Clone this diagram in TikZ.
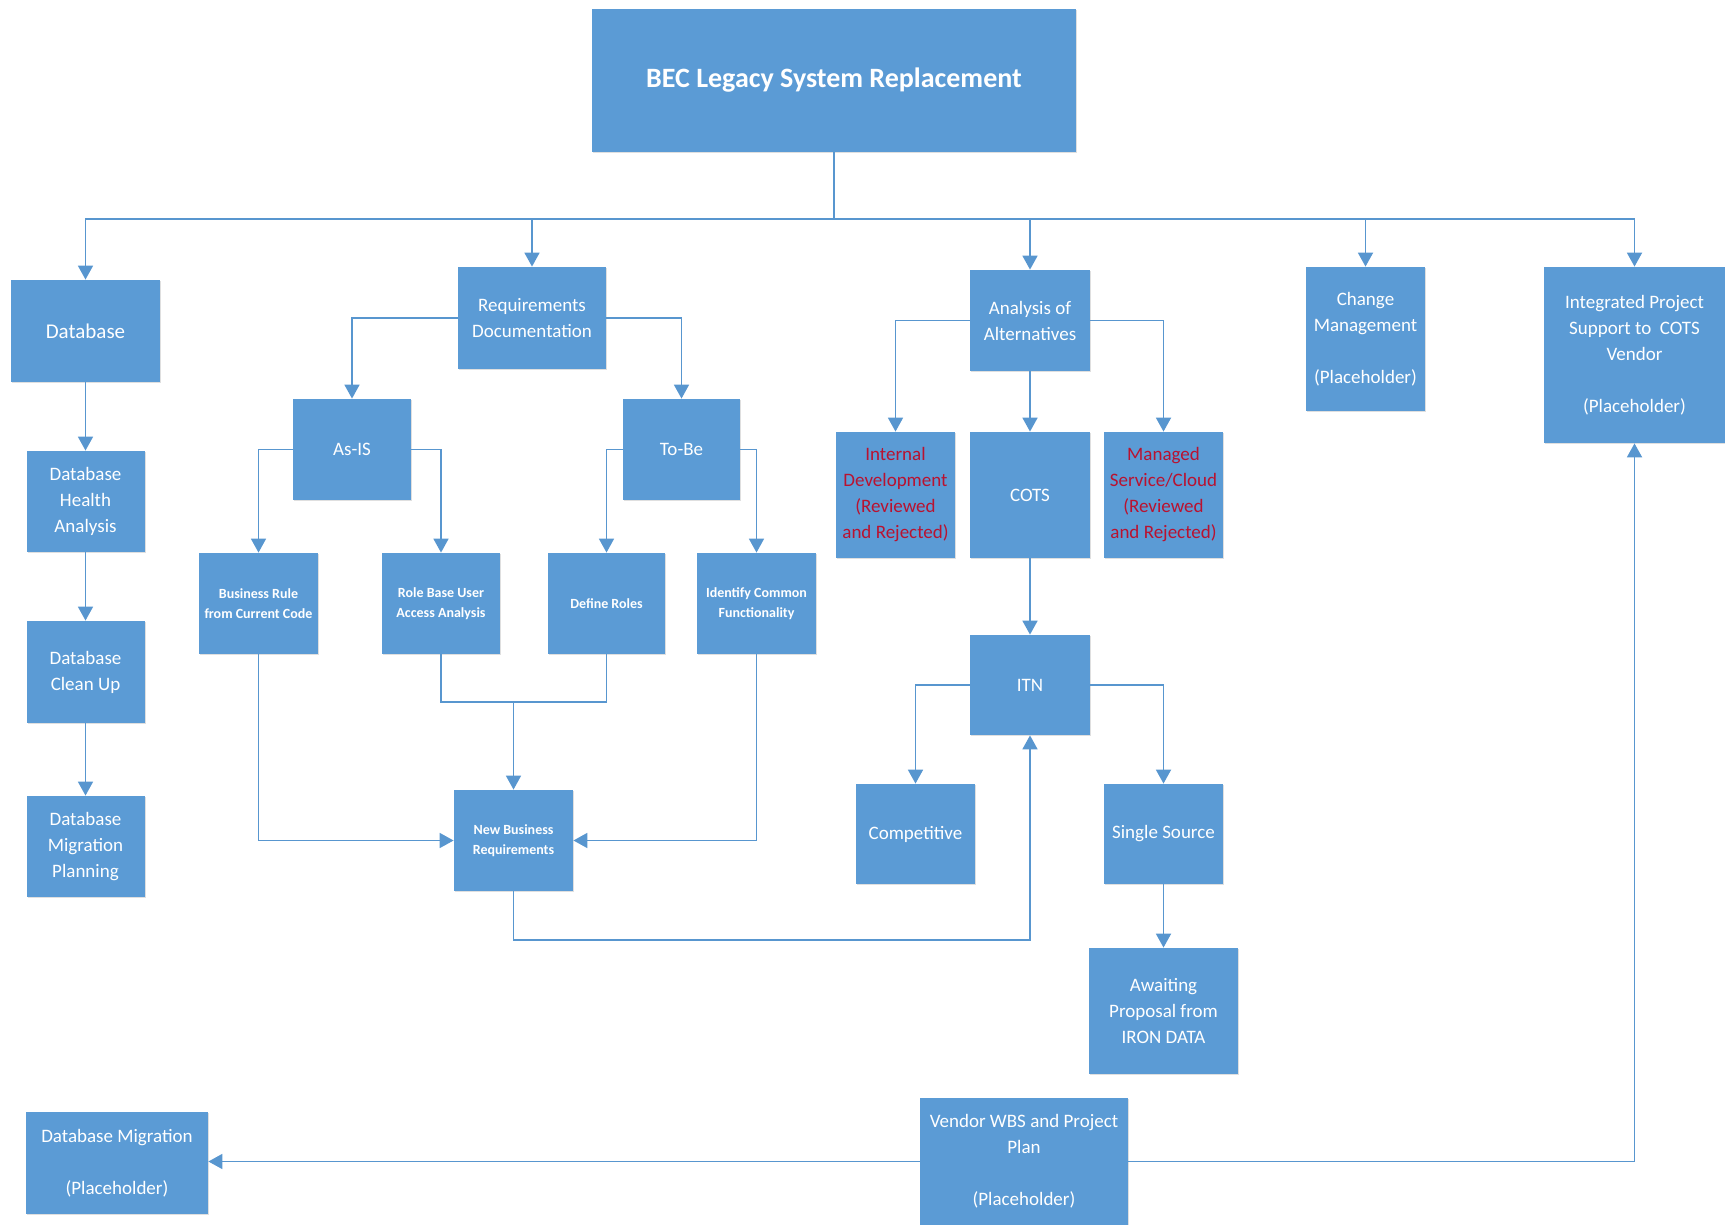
\documentclass[tikz,border=0pt]{standalone}
\usepackage{fontspec}
\setmainfont{Carlito}
\usetikzlibrary{arrows.meta,shadows}
\definecolor{boxblue}{RGB}{91,155,213}
\definecolor{lineblue}{RGB}{88,150,207}
\definecolor{rejred}{RGB}{185,18,48}
\newcommand{\txt}{\fontsize{9.5}{13}\selectfont}
\newcommand{\smalltxt}{\fontsize{7}{10}\selectfont\bfseries}
\begin{document}
\begin{tikzpicture}[x=0.5pt,y=-0.5pt,
  box/.style={rectangle, fill=boxblue, text=white, align=center, inner sep=1pt,
    font=\txt,
    drop shadow={shadow xshift=0.7pt, shadow yshift=-0.7pt, opacity=0.25, fill=black!50}},
  smallbox/.style={box, font=\smalltxt},
  rej/.style={box, text=rejred},
  conn/.style={draw=lineblue, line width=0.9pt},
  arr/.style={conn, -{Triangle[width=7.5pt,length=7pt]}}]
\useasboundingbox (0,0) rectangle (1725,1225);

% top level
\node[box, minimum width=242pt, minimum height=71.5pt, font=\fontsize{14}{17}\selectfont\bfseries]
  (top) at (834,80.5) {BEC Legacy System Replacement};

% database branch
\node[box, minimum width=74.5pt, minimum height=51pt, font=\fontsize{10.5}{13}\selectfont] (db) at (85.5,331) {Database};
\node[box, minimum width=59pt, minimum height=50.5pt] (dbh) at (85.5,501.5) {Database\\Health\\Analysis};
\node[box, minimum width=59pt, minimum height=51pt] (dbc) at (85.5,672) {Database\\Clean Up};
\node[box, minimum width=59pt, minimum height=50.5pt] (dbm) at (85.5,846.5) {Database\\Migration\\Planning};

% requirements branch
\node[box, minimum width=74pt, minimum height=51pt] (req) at (532,318) {Requirements\\Documentation};
\node[box, minimum width=59pt, minimum height=50.5pt] (asis) at (352,449.5) {As-IS};
\node[box, minimum width=58.5pt, minimum height=50.5pt] (tobe) at (681.5,449.5) {To-Be};
\node[smallbox, minimum width=59.5pt, minimum height=50.5pt] (br) at (258.5,603.5) {Business Rule\\from Current Code};
\node[smallbox, minimum width=59pt, minimum height=50.5pt] (rb) at (441,603.5) {Role Base User\\Access Analysis};
\node[smallbox, minimum width=58.5pt, minimum height=50.5pt] (dr) at (606.5,603.5) {Define Roles};
\node[smallbox, minimum width=59.5pt, minimum height=50.5pt] (ic) at (756.5,603.5) {Identify Common\\Functionality};
\node[smallbox, minimum width=59.5pt, minimum height=50.5pt] (nbr) at (513.5,840.5) {New Business\\Requirements};

% alternatives branch
\node[box, minimum width=60pt, minimum height=50.5pt] (aoa) at (1030,320.5) {Analysis of\\Alternatives};
\node[rej, minimum width=59.5pt, minimum height=63pt] (intd) at (895.5,495) {Internal\\Development\\(Reviewed\\and Rejected)};
\node[box, minimum width=60pt, minimum height=63pt] (cots) at (1030,495) {COTS};
\node[rej, minimum width=59.5pt, minimum height=63pt] (msc) at (1163.5,495) {Managed\\Service/Cloud\\(Reviewed\\and Rejected)};
\node[box, minimum width=60pt, minimum height=50pt] (itn) at (1030,685) {ITN};
\node[box, minimum width=59.5pt, minimum height=50pt] (comp) at (915.5,834) {Competitive};
\node[box, minimum width=59.5pt, minimum height=50pt] (ss) at (1163.5,834) {Single Source};
\node[box, minimum width=74.5pt, minimum height=63pt] (await) at (1163.5,1011) {Awaiting\\Proposal from\\IRON DATA};

% placeholders
\node[box, minimum width=59.5pt, minimum height=72pt] (chg) at (1365.5,339) {Change\\Management\\[13pt](Placeholder)};
\node[box, minimum width=90.5pt, minimum height=88pt] (ips) at (1634.5,355) {Integrated Project\\Support to\ \ COTS\\Vendor\\[13pt](Placeholder)};
\node[box, minimum width=104pt, minimum height=63.5pt] (vwbs) at (1024,1161.5) {Vendor WBS and Project\\Plan\\[13pt](Placeholder)};
\node[box, minimum width=91pt, minimum height=51pt] (dbmp) at (117,1163) {Database Migration\\[13pt](Placeholder)};

% top-level distribution bus
\coordinate (bus) at (834,219);
\draw[conn] (top.south) -- (bus);
\draw[arr] (bus) -| (db.north);
\draw[arr] (bus) -| (req.north);
\draw[arr] (bus) -| (aoa.north);
\draw[arr] (bus) -| (chg.north);
\draw[arr] (bus) -| (ips.north);

% database chain
\draw[arr] (db) -- (dbh);
\draw[arr] (dbh) -- (dbc);
\draw[arr] (dbc) -- (dbm);

% requirements tree
\draw[arr] (req.west) -| (asis.north);
\draw[arr] (req.east) -| (tobe.north);
\draw[arr] (asis.west) -| (br.north);
\draw[arr] (asis.east) -| (rb.north);
\draw[arr] (tobe.west) -| (dr.north);
\draw[arr] (tobe.east) -| (ic.north);
\draw[arr] (br.south) |- (nbr.west);
\draw[arr] (ic.south) |- (nbr.east);
\coordinate (rolejoin) at (513.5,702);
\draw[conn] (rb.south) |- (rolejoin) -| (dr.south);
\draw[arr] (rolejoin) -- (nbr.north);
\coordinate (nbrturn) at (1030,940);
\draw[arr] (nbr.south) |- (nbrturn) -- (itn.south);

% alternatives tree
\draw[arr] (aoa.west) -| (intd.north);
\draw[arr] (aoa.east) -| (msc.north);
\draw[arr] (aoa) -- (cots);
\draw[arr] (cots) -- (itn);
\draw[arr] (itn.west) -| (comp.north);
\draw[arr] (itn.east) -| (ss.north);
\draw[arr] (ss) -- (await);

% vendor plan links
\draw[arr] (vwbs.west) -- (vwbs.west -| dbmp.east);
\draw[arr] (vwbs.east) -| (ips.south);
\end{tikzpicture}
\end{document}
